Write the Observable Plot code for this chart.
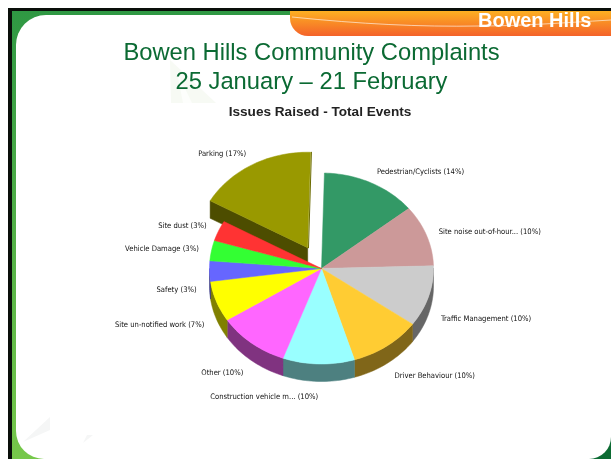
<!DOCTYPE html>
<html>
<head>
<meta charset="utf-8">
<script src="https://cdn.jsdelivr.net/npm/d3@7"></script>
<script src="https://cdn.jsdelivr.net/npm/@observablehq/plot@0.6"></script>
<style>
html,body{margin:0;padding:0;background:#fff;}
#slide{position:relative;width:611px;height:459px;overflow:hidden;font-family:"Liberation Sans",Arial,sans-serif;background:#fff;}
#slide>*{position:absolute;}
#frame{left:8px;top:8px;right:0;bottom:0;background:#0a0f0a;}
#green{left:12px;top:11px;right:0;bottom:0;background:linear-gradient(180deg,#2f9843 0%,#4fae47 45%,#76c84a 100%);}
#corner{right:0;bottom:0;width:40px;height:40px;background:#0c6b33;}
#panel{left:16px;top:15px;right:0;bottom:0;background:#fff;border-radius:30px 0 22px 28px;}
#tab{left:290px;top:11px;right:0;height:25px;background:linear-gradient(180deg,#fdb022,#f4622a);border-bottom-left-radius:18px;}
#streak{left:0;top:0;}
#brand{left:478px;top:9px;font:bold 20px "Liberation Sans",Arial,sans-serif;color:#fff;line-height:23px;white-space:nowrap;filter:blur(0.3px);}
.t{left:0;width:623px;text-align:center;color:#0b6a33;font-size:23.75px;line-height:28px;white-space:nowrap;filter:blur(0.3px);}
#chartTitle{left:0;width:640px;text-align:center;top:104px;font:bold 13.6px/15px "Liberation Sans",Arial,sans-serif;color:#222;white-space:nowrap;filter:blur(0.3px);}
#chart{left:0;top:0;filter:blur(0.3px);}
#chart svg{display:block;background:transparent;}
</style>
</head>
<body>
<div id="slide">
  <div id="frame"></div>
  <div id="green"></div>
  <div id="corner"></div>
  <div id="panel"></div>
  <svg id="decor" width="611" height="459" style="left:0;top:0">
    <polygon points="170,60 171,103 216,103" fill="#f7faf4"/>
    <polygon points="177,72 183,103 192,103" fill="#fdfefc"/>
    <polygon points="23,442 50,417 50,430" fill="#f5f6f6"/>
    <polygon points="83,443 87,435 93,435" fill="#f5f6f6"/>
  </svg>
  <div id="tab"></div>
  <svg id="streak" width="611" height="40"><path d="M292,17 C360,24 420,27 479,26 C520,26 560,23 611,20" fill="none" stroke="#fff" stroke-opacity=".6" stroke-width="1"/></svg>
  <div id="brand">Bowen Hills</div>
  <div class="t" style="top:38px">Bowen Hills Community Complaints</div>
  <div class="t" style="top:67px">25 January – 21 February</div>
  <div id="chartTitle">Issues Raised - Total Events</div>
  <div id="chart"></div>
</div>
<script>
const categories = ["Pedestrian/Cyclists","Site noise out-of-hour...","Traffic Management","Driver Behaviour","Construction vehicle m...","Other","Site un-notified work","Safety","Vehicle Damage","Site dust","Parking"];
const events = [4,3,3,3,3,3,2,1,1,1,5];
const percents = [14,10,10,10,10,10,7,3,3,3,17];
const topColors = ["#339966","#cc9999","#cccccc","#ffcc33","#99ffff","#ff66ff","#ffff00","#6666ff","#33ff33","#ff3333","#999900"];
const sideColors = ["#1a4d33","#664d4d","#666666","#806619","#4d8080","#803380","#808000","#333380","#1a801a","#801a1a","#4d4d00"];
const exploded = "Parking";

const cx = 321, cy = 268, rx = 112, ry = 95.5, depth = 17.5 / ry, startDeg = 1.5, explode = 0.25;
const labelRx = 1.115, labelRyUp = 1.13, labelRyDown = 1.16;
const rad = d => d * Math.PI / 180;

const pieArcs = d3.pie().sort(null).startAngle(rad(startDeg)).endAngle(rad(startDeg + 360)).value(d => d)(events);
const slices = categories.map((name, i) => {
  const a0 = pieArcs[i].startAngle, a1 = pieArcs[i].endAngle, mid = (a0 + a1) / 2;
  const off = name === exploded ? explode : 0;
  return {name, a0, a1, mid, ox: off * Math.sin(mid), oy: off * Math.cos(mid), pct: percents[i]};
});
const arcPts = (a0, a1) => {
  const n = Math.max(2, Math.ceil((a1 - a0) / rad(1.5)));
  return d3.range(n + 1).map(k => a0 + (a1 - a0) * k / n);
};
const topFaces = slices.flatMap(s => {
  const pts = [[s.ox, s.oy], ...arcPts(s.a0, s.a1).map(a => [s.ox + Math.sin(a), s.oy + Math.cos(a)]), [s.ox, s.oy]];
  return pts.map(([x, y]) => ({key: s.name, x, y}));
});
const sideWalls = slices.flatMap(s => {
  const a0 = Math.max(s.a0, rad(90)), a1 = Math.min(s.a1, rad(270));
  const out = [];
  if (a1 > a0) {
    const arc = arcPts(a0, a1);
    const pts = [...arc.map(a => [s.ox + Math.sin(a), s.oy + Math.cos(a)]), ...arc.slice().reverse().map(a => [s.ox + Math.sin(a), s.oy + Math.cos(a) - depth])];
    pts.push(pts[0]);
    pts.forEach(([x, y]) => out.push({key: s.name + " side", x, y}));
  }
  return out;
});
const ex = slices.find(s => s.name === exploded);
const radialWall = [[ex.ox, ex.oy], [ex.ox + Math.sin(ex.a0), ex.oy + Math.cos(ex.a0)], [ex.ox + Math.sin(ex.a0), ex.oy + Math.cos(ex.a0) - depth], [ex.ox, ex.oy - depth], [ex.ox, ex.oy]]
  .map(([x, y]) => ({key: exploded + " side", x, y}));
const parkingEdge = [[ex.ox, ex.oy], [ex.ox + Math.sin(ex.a1), ex.oy + Math.cos(ex.a1)]].map(([x, y]) => ({x, y}));

const isEx = d => d.key.startsWith(exploded);
const labels = slices.map(s => {
  const c = Math.cos(s.mid);
  return {
    text: `${s.name} (${s.pct}%)`,
    x: s.ox + labelRx * Math.sin(s.mid),
    y: s.oy + (c < 0 ? labelRyDown * c - depth : labelRyUp * c),
    right: Math.sin(s.mid) >= 0
  };
});

const polyOpts = {x: "x", y: "y", z: "key", fill: "key", stroke: "key", strokeWidth: 0.5};
const labelFont = {fontSize: 7.6, fontFamily: "'DejaVu Sans Condensed', 'DejaVu Sans', sans-serif", fill: "#111"};
const chart = Plot.plot({
  width: 611, height: 459, margin: 0,
  x: {domain: [-1, 1], range: [cx - rx, cx + rx], axis: null},
  y: {domain: [-1, 1], range: [cy + ry, cy - ry], axis: null},
  color: {type: "ordinal", domain: [...categories, ...categories.map(c => c + " side")], range: [...topColors, ...sideColors]},
  style: {background: "transparent"},
  marks: [
    Plot.line(sideWalls.filter(isEx), polyOpts),
    Plot.line(radialWall, polyOpts),
    Plot.line(topFaces.filter(isEx), polyOpts),
    Plot.line(parkingEdge, {x: "x", y: "y", stroke: "#6b6b00", strokeWidth: 1, dx: 0.8}),
    Plot.line(sideWalls.filter(d => !isEx(d)), polyOpts),
    Plot.line(topFaces.filter(d => !isEx(d)), polyOpts),
    Plot.text(labels.filter(d => d.right), {x: "x", y: "y", text: "text", textAnchor: "start", ...labelFont}),
    Plot.text(labels.filter(d => !d.right), {x: "x", y: "y", text: "text", textAnchor: "end", ...labelFont})
  ]
});
document.getElementById("chart").appendChild(chart);
</script>
</body>
</html>
